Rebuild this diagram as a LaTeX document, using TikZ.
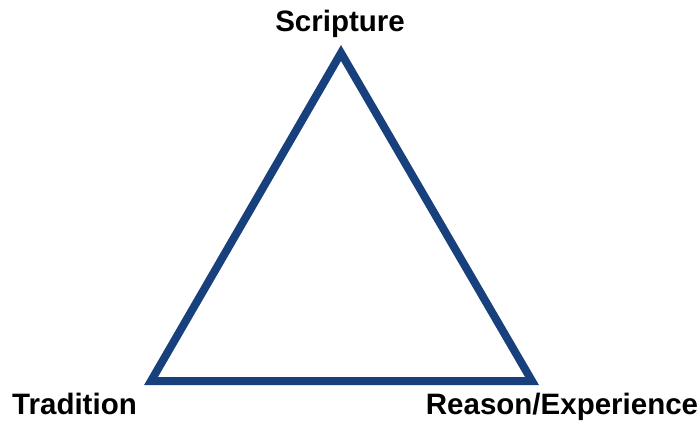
\documentclass[tikz,border=0pt]{standalone}
\usepackage{fontspec}
\setmainfont{Liberation Sans}
\definecolor{triblue}{HTML}{17407C}
\begin{document}
\begin{tikzpicture}[x=1pt,y=-1pt,
  lbl/.style={font=\fontsize{29.5}{33}\selectfont\bfseries, inner sep=0pt, anchor=base, text=black},
  edge/.style={draw=triblue, line width=8pt, line join=miter}]
\useasboundingbox (0,0) rectangle (700,421);
\coordinate (top) at (341,53);
\coordinate (bl) at (151,381);
\coordinate (br) at (532,381);
\draw[edge] (top) -- (bl) -- (br) -- cycle;
\node[lbl] (s) at (340,31) {Scripture};
\node[lbl] (t) at (74.5,414) {Tradition};
\node[lbl] (r) at (562,414) {Reason/Experience};
\end{tikzpicture}
\end{document}
